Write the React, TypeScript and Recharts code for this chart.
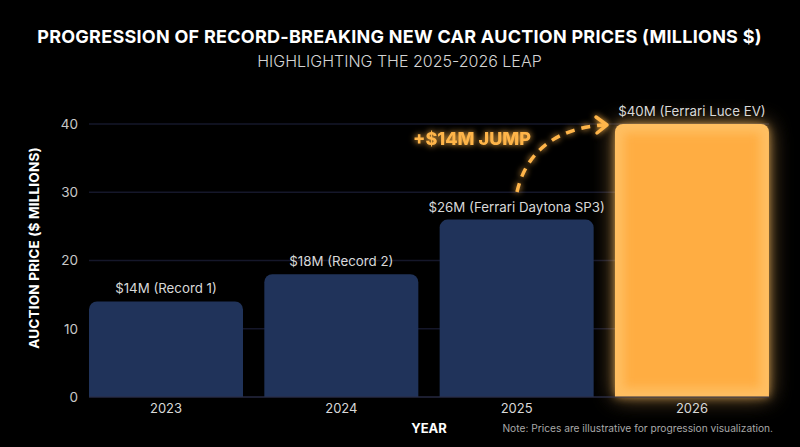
import { BarChart, Bar, XAxis, YAxis, CartesianGrid, Rectangle, LabelList } from 'recharts';

const years = ['2023', '2024', '2025', '2026'];
const prices = [14, 18, 26, 40];
const recordNames = ['Record 1', 'Record 2', 'Ferrari Daytona SP3', 'Ferrari Luce EV'];
const yTicks = [0, 10, 20, 30, 40];

const rows = years.map((year, i) => ({
  year,
  price: prices[i],
  label: `$${prices[i]}M (${recordNames[i]})`,
}));

const FONT = 'Inter, "Open Sans", sans-serif';

function PriceBar(props: any) {
  const { x, y, width, height, index } = props;
  if (index !== 3) {
    return <Rectangle x={x} y={y} width={width} height={height} radius={[8, 8, 0, 0]} fill="#20335a" />;
  }
  return (
    <g>
      <Rectangle x={x} y={y} width={width} height={height} radius={[8, 8, 0, 0]} fill="#ffbf62" filter="url(#outerGlow)" />
      <rect x={x + 9} y={y + 9} width={width - 18} height={height - 18} fill="#ffad42" filter="url(#softEdge)" />
    </g>
  );
}

// single line on purpose, the default label wraps to the bar width
function BarLabel(props: any) {
  const { x, y, width, value } = props;
  return (
    <text x={x + width / 2} y={y - 8} textAnchor="middle" fill="#d8d8d8" fontSize={13.3} fontFamily={FONT}>
      {value}
    </text>
  );
}

export default function App() {
  return (
    <div style={{ position: 'absolute', left: 0, top: 0, width: 800, height: 447, background: '#000' }}>
      <BarChart
        width={800}
        height={447}
        data={rows}
        margin={{ top: 124, right: 31, bottom: 20, left: 0 }}
        barCategoryGap={10.65}
      >
        <defs>
          <filter id="outerGlow" x="-25%" y="-15%" width="150%" height="130%">
            <feGaussianBlur in="SourceGraphic" stdDeviation="4" result="tight" />
            <feGaussianBlur in="SourceGraphic" stdDeviation="11" result="wide" />
            <feComponentTransfer in="tight" result="tightDim">
              <feFuncA type="linear" slope="0.6" />
            </feComponentTransfer>
            <feComponentTransfer in="wide" result="wideDim">
              <feFuncA type="linear" slope="0.55" />
            </feComponentTransfer>
            <feMerge>
              <feMergeNode in="wideDim" />
              <feMergeNode in="tightDim" />
              <feMergeNode in="SourceGraphic" />
            </feMerge>
          </filter>
          <filter id="softEdge" x="-10%" y="-10%" width="120%" height="120%">
            <feGaussianBlur stdDeviation="5" />
          </filter>
          <filter id="textGlow" x="-20%" y="-50%" width="140%" height="200%">
            <feGaussianBlur in="SourceGraphic" stdDeviation="3" result="blur" />
            <feMerge>
              <feMergeNode in="blur" />
              <feMergeNode in="SourceGraphic" />
            </feMerge>
          </filter>
        </defs>
        <CartesianGrid vertical={false} stroke="#15172a" strokeWidth={1.5} />
        <XAxis
          dataKey="year"
          height={30}
          padding={{ left: -10.65, right: -10.65 }}
          tickLine={false}
          axisLine={{ stroke: '#2a2d42' }}
          tick={{ fill: '#d8d8d8', fontSize: 13, fontFamily: FONT }}
          tickMargin={1}
        />
        <YAxis
          domain={[0, 40]}
          ticks={yTicks}
          width={89}
          tickLine={false}
          axisLine={false}
          tick={{ fill: '#c8c8c8', fontSize: 13.5, fontFamily: FONT }}
          tickMargin={5}
        />
        <Bar dataKey="price" shape={PriceBar} isAnimationActive={false}>
          <LabelList dataKey="label" content={BarLabel} />
        </Bar>

        <text x={399.5} y={43} textAnchor="middle" fill="#fff" fontSize={18} fontWeight={700} letterSpacing={0.26} fontFamily={FONT}>
          PROGRESSION OF RECORD-BREAKING NEW CAR AUCTION PRICES (MILLIONS $)
        </text>
        <text x={399.5} y={67} textAnchor="middle" fill="#d4d4d4" fontSize={16} fontWeight={300} fontFamily={FONT}>
          HIGHLIGHTING THE 2025-2026 LEAP
        </text>
        <text
          x={39}
          y={248}
          textAnchor="middle"
          fill="#fff"
          fontSize={13.5}
          fontWeight={700}
          letterSpacing={0.2}
          fontFamily={FONT}
          transform="rotate(-90 39 248)"
        >
          AUCTION PRICE ($ MILLIONS)
        </text>
        <text x={429} y={433} textAnchor="middle" fill="#fff" fontSize={13} fontWeight={700} fontFamily={FONT}>
          YEAR
        </text>
        <text x={773} y={431.5} textAnchor="end" fill="#a8a8a8" fontSize={10.2} fontFamily={FONT}>
          Note: Prices are illustrative for progression visualization.
        </text>

        <text x={472} y={145} textAnchor="middle" fill="#ffb54a" fontSize={18} fontWeight={800} fontFamily={FONT} filter="url(#textGlow)">
          +$14M JUMP
        </text>
        <g fill="none" stroke="#ffb54a" strokeWidth={3.5} filter="url(#textGlow)">
          <path d="M517 192 C526 152 556 128 604 125" strokeDasharray="9 7" />
          <path d="M596 117 L607 125 L597 133" strokeLinecap="round" strokeLinejoin="round" />
        </g>
      </BarChart>
    </div>
  );
}
